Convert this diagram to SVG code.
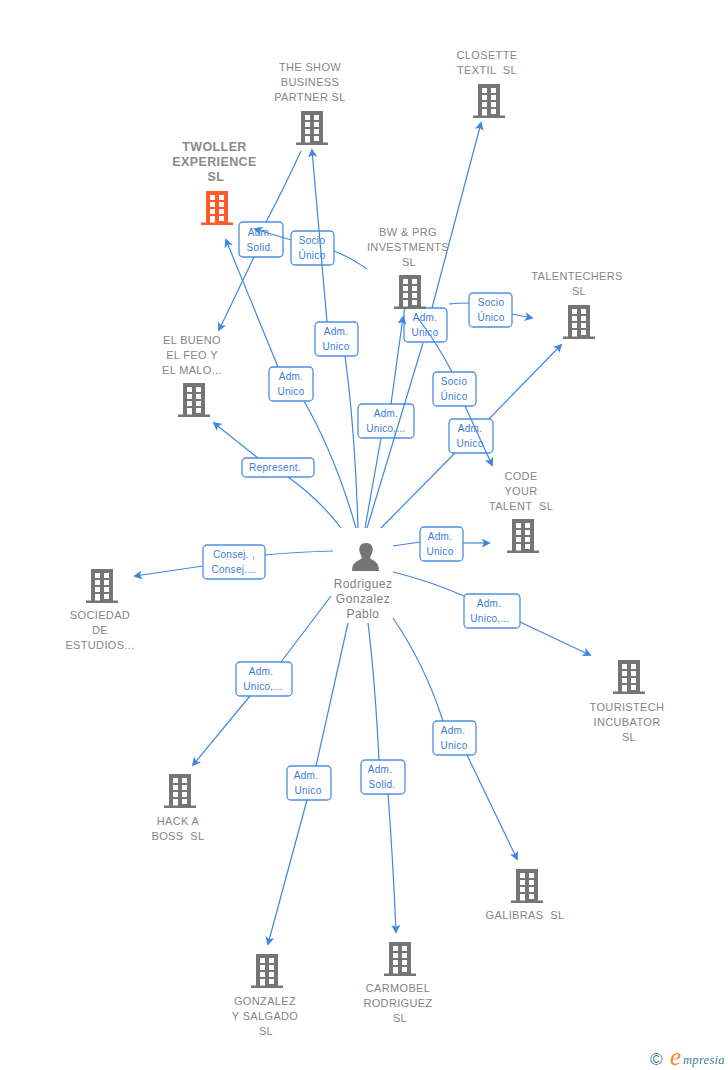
<svg xmlns="http://www.w3.org/2000/svg" width="728" height="1070" viewBox="0 0 728 1070">
<style>
text{font-family:"Liberation Sans",Arial,sans-serif;white-space:pre}
.n text{font-size:11px;fill:#858585;text-anchor:middle;letter-spacing:.35px}
.n .t{font-weight:bold;font-size:12.5px;fill:#8a8a8a;letter-spacing:.4px}
.c path{fill:none;stroke:#3f86e0;stroke-width:1.2}
.l rect{fill:#fff;stroke:#4d8fe3;stroke-width:1.3}
.l text{font-size:10px;fill:#3a7ad6;text-anchor:middle;letter-spacing:.3px}
.p{font-size:12px;fill:#808080;text-anchor:middle;letter-spacing:.45px}
</style>
<defs>
<symbol id="b" overflow="visible">
<path fill-rule="evenodd" d="M-16 -2.5H-11V-34H11V-2.5H16V0H-16ZM-7 -30V-25H-2V-30ZM2 -30V-25H7V-30ZM-7 -23V-18H-2V-23ZM2 -23V-18H7V-23ZM-7 -16V-11H-2V-16ZM2 -16V-11H7V-16ZM-7 -9V-2.5H-2V-9ZM2 -9V-4H7V-9Z"/>
</symbol>
<marker id="a" viewBox="0 0 10 10" refX="8" refY="5" markerWidth="9" markerHeight="9" orient="auto" markerUnits="userSpaceOnUse"><path d="M0 0L10 5L0 10L2.5 5Z" fill="#3f86e0"/></marker>
</defs>

<g id="labels" class="l">
<g><rect x="239" y="222" width="44" height="35" rx="4"/><text x="260" y="236">Adm.</text><text x="260" y="251">Solid.</text></g>
<g><rect x="291" y="231" width="43" height="34" rx="4"/><text x="312" y="244">Socio</text><text x="312" y="259">Único</text></g>
<g><rect x="315" y="322" width="43" height="34" rx="4"/><text x="336" y="335">Adm.</text><text x="336" y="350">Unico</text></g>
<g><rect x="269" y="367" width="44" height="34" rx="4"/><text x="291" y="380">Adm.</text><text x="291" y="395">Unico</text></g>
<g><rect x="404" y="308" width="43" height="34" rx="4"/><text x="425" y="321">Adm.</text><text x="425" y="336">Unico</text></g>
<g><rect x="469" y="293" width="43" height="34" rx="4"/><text x="491" y="306">Socio</text><text x="491" y="321">Único</text></g>
<g><rect x="433" y="372" width="43" height="34" rx="4"/><text x="454" y="385">Socio</text><text x="454" y="400">Único</text></g>
<g><rect x="358" y="404" width="56" height="34" rx="4"/><text x="386" y="417">Adm.</text><text x="386" y="432">Unico,...</text></g>
<g><rect x="449" y="419" width="44" height="34" rx="4"/><text x="470" y="432">Adm.</text><text x="470" y="447">Unico</text></g>
<g><rect x="242" y="458" width="72" height="19" rx="4"/><text x="275" y="471">Represent.</text></g>
<g><rect x="203" y="545" width="62" height="34" rx="4"/><text x="234" y="558">Consej. ,</text><text x="234" y="573">Consej....</text></g>
<g><rect x="420" y="527" width="43" height="34" rx="4"/><text x="440" y="540">Adm.</text><text x="440" y="555">Unico</text></g>
<g><rect x="464" y="594" width="56" height="34" rx="4"/><text x="489" y="607">Adm.</text><text x="490" y="622">Unico,...</text></g>
<g><rect x="236" y="662" width="56" height="34" rx="4"/><text x="261" y="675">Adm.</text><text x="263" y="690">Unico,...</text></g>
<g><rect x="433" y="721" width="43" height="34" rx="4"/><text x="453" y="734">Adm.</text><text x="454" y="749">Unico</text></g>
<g><rect x="361" y="760" width="44" height="34" rx="4"/><text x="380" y="773">Adm.</text><text x="382" y="788">Solid.</text></g>
<g><rect x="287" y="766" width="44" height="34" rx="4"/><text x="306" y="779">Adm.</text><text x="308" y="794">Unico</text></g>
</g>

<g id="connectors" class="c">
<path d="M356 528Q335 455 304 401"/><path d="M278 367L226 240" marker-end="url(#a)"/>
<path d="M358 528Q355 430 345 356"/><path d="M327 322L312 150" marker-end="url(#a)"/>
<path d="M367 528L423 343"/><path d="M432 308L481 123" marker-end="url(#a)"/>
<path d="M365 528L381 438"/><path d="M391 404L403 317" marker-end="url(#a)"/>
<path d="M381 528L455 453"/><path d="M489 419L561 345" marker-end="url(#a)"/>
<path d="M418 318Q438 345 452 372"/><path d="M465 406L492 465" marker-end="url(#a)"/>
<path d="M449 304Q458 303 469 303"/><path d="M512 314L532 318" marker-end="url(#a)"/>
<path d="M367 269Q350 257 334 251"/><path d="M291 240L255 229" marker-end="url(#a)"/>
<path d="M301 151Q283 190 266 222"/><path d="M254 257L219 330" marker-end="url(#a)"/>
<path d="M341 528Q320 500 288 477"/><path d="M258 458L214 423" marker-end="url(#a)"/>
<path d="M333 551Q295 552 265 555"/><path d="M203 566L135 576" marker-end="url(#a)"/>
<path d="M393 546L420 542"/><path d="M463 543L489 543" marker-end="url(#a)"/>
<path d="M393 572Q430 581 464 596"/><path d="M520 622L590 655" marker-end="url(#a)"/>
<path d="M331 596L281 662"/><path d="M250 696L193 765" marker-end="url(#a)"/>
<path d="M348 623L316 766"/><path d="M307 800L268 944" marker-end="url(#a)"/>
<path d="M368 623Q375 680 379 760"/><path d="M388 794Q393 860 396 932" marker-end="url(#a)"/>
<path d="M393 618Q425 665 443 721"/><path d="M467 755L517 859" marker-end="url(#a)"/>
</g>

<g id="person"><path fill="#757575" d="M352 571C352 562 358 561 361 559C363 558 361 556 360 553C358 548 360 543 366 543C372 543 374 548 372 553C371 556 369 558 371 559C374 561 379 562 379 571Z"/><text class="p" x="363" y="588">Rodriguez</text><text class="p" x="363" y="603">Gonzalez</text><text class="p" x="363" y="618">Pablo</text></g>

<g id="twoller" class="n"><use href="#b" x="217" y="225" fill="#ff5a2c"/><text class="t" x="214.500" y="151">TWOLLER</text><text class="t" x="214.500" y="166">EXPERIENCE</text><text class="t" x="216" y="181">SL</text></g>
<g id="theshow" class="n"><use href="#b" x="312" y="145" fill="#757575"/><text x="310" y="71">THE SHOW</text><text x="310" y="86">BUSINESS</text><text x="310" y="101">PARTNER SL</text></g>
<g id="closette" class="n"><use href="#b" x="489" y="118" fill="#757575"/><text x="487" y="59">CLOSETTE</text><text x="487" y="74">TEXTIL  SL</text></g>
<g id="bwprg" class="n"><use href="#b" x="410" y="309" fill="#757575"/><text x="408" y="236">BW &amp; PRG</text><text x="408" y="251">INVESTMENTS</text><text x="409" y="266">SL</text></g>
<g id="talentechers" class="n"><use href="#b" x="579" y="339" fill="#757575"/><text x="577" y="280">TALENTECHERS</text><text x="579" y="295">SL</text></g>
<g id="elbueno" class="n"><use href="#b" x="194" y="417" fill="#757575"/><text x="192" y="344">EL BUENO</text><text x="192" y="359">EL FEO Y</text><text x="192" y="374">EL MALO...</text></g>
<g id="code" class="n"><use href="#b" x="523" y="553" fill="#757575"/><text x="521" y="480">CODE</text><text x="521" y="495">YOUR</text><text x="521" y="510">TALENT  SL</text></g>
<g id="sociedad" class="n"><use href="#b" x="102" y="603" fill="#757575"/><text x="100" y="619">SOCIEDAD</text><text x="100" y="634">DE</text><text x="100" y="649">ESTUDIOS...</text></g>
<g id="touristech" class="n"><use href="#b" x="629" y="694" fill="#757575"/><text x="627" y="711">TOURISTECH</text><text x="627" y="726">INCUBATOR</text><text x="629" y="741">SL</text></g>
<g id="hack" class="n"><use href="#b" x="180" y="808" fill="#757575"/><text x="178" y="825">HACK A</text><text x="178" y="840">BOSS  SL</text></g>
<g id="galibras" class="n"><use href="#b" x="527" y="903" fill="#757575"/><text x="525" y="919">GALIBRAS  SL</text></g>
<g id="gonzalez" class="n"><use href="#b" x="267" y="988" fill="#757575"/><text x="265" y="1005">GONZALEZ</text><text x="265" y="1020">Y SALGADO</text><text x="266" y="1035">SL</text></g>
<g id="carmobel" class="n"><use href="#b" x="400" y="976" fill="#757575"/><text x="398" y="992">CARMOBEL</text><text x="398" y="1007">RODRIGUEZ</text><text x="400" y="1022">SL</text></g>

<g id="logo"><text x="650" y="1065" font-size="17" fill="#3d7f9c">©</text><text x="670" y="1065" font-size="25" fill="#f08a1d" style="font-family:'Liberation Serif',serif;font-style:italic">e</text><text x="683" y="1064" font-size="12.5" fill="#3d7f9c" style="font-family:'Liberation Serif',serif;font-style:italic;letter-spacing:.3px">mpresia</text></g>
</svg>
